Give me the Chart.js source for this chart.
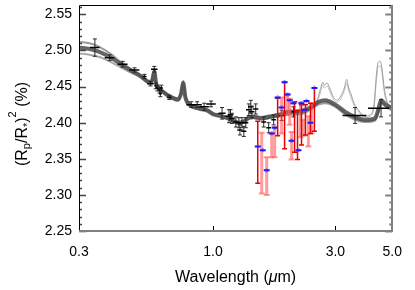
<!DOCTYPE html>
<html>
<head>
<meta charset="utf-8">
<script src="https://cdn.jsdelivr.net/npm/chart.js@4/dist/chart.umd.min.js"></script>
<style>
  html, body { margin: 0; padding: 0; background: #fff; }
  canvas { display: block; }
</style>
</head>
<body>
<canvas id="canvas" width="415" height="290"></canvas>
<script>
// tick labels
var xTicks = [0.3, 1.0, 3.0, 5.0];
var yTicks = [2.25, 2.30, 2.35, 2.40, 2.45, 2.50, 2.55];
var yMin = 2.25, yMax = 2.563;

// model spectra (gray band)
var modelWl = [0.30, 0.33, 0.36, 0.40, 0.44, 0.48, 0.52, 0.55, 0.57, 0.58, 0.59, 0.60, 0.62, 0.66, 0.70, 0.73, 0.75, 0.765, 0.78, 0.81, 0.88, 0.95, 1.00, 1.06, 1.15, 1.26, 1.32, 1.38, 1.44, 1.54, 1.65, 1.80, 1.97, 2.21, 2.42, 2.58, 2.74, 3.00, 3.28, 3.58, 3.92, 4.28, 4.40, 4.52, 4.72, 5.00];
var modelA = [2.504, 2.502, 2.498, 2.490, 2.480, 2.472, 2.465, 2.458, 2.456, 2.460, 2.471, 2.454, 2.447, 2.439, 2.434, 2.432, 2.440, 2.455, 2.435, 2.425, 2.420, 2.417, 2.412, 2.410, 2.406, 2.400, 2.402, 2.407, 2.408, 2.406, 2.408, 2.411, 2.415, 2.416, 2.422, 2.429, 2.431, 2.425, 2.415, 2.408, 2.404, 2.406, 2.417, 2.431, 2.425, 2.420];
var modelB = [2.512, 2.510, 2.505, 2.495, 2.483, 2.474, 2.466, 2.459, 2.457, 2.462, 2.474, 2.456, 2.448, 2.440, 2.435, 2.433, 2.442, 2.458, 2.437, 2.426, 2.421, 2.418, 2.413, 2.411, 2.407, 2.401, 2.403, 2.409, 2.410, 2.408, 2.410, 2.408, 2.411, 2.412, 2.419, 2.425, 2.427, 2.422, 2.411, 2.404, 2.401, 2.403, 2.412, 2.427, 2.422, 2.417];
var modelC = [2.496, 2.494, 2.491, 2.484, 2.476, 2.469, 2.463, 2.456, 2.454, 2.458, 2.468, 2.452, 2.445, 2.437, 2.432, 2.430, 2.438, 2.452, 2.433, 2.423, 2.418, 2.415, 2.410, 2.408, 2.404, 2.398, 2.400, 2.405, 2.406, 2.404, 2.406, 2.409, 2.413, 2.414, 2.420, 2.427, 2.429, 2.423, 2.413, 2.406, 2.402, 2.404, 2.414, 2.428, 2.423, 2.418];

// thin models with extra features longward of 2.5 um
var thinWl = [2.42, 2.55, 2.62, 2.68, 2.72, 2.78, 2.85, 2.95, 3.05, 3.15, 3.25, 3.32, 3.38, 3.45, 3.55, 3.70, 3.90, 4.10, 4.25, 4.33, 4.40, 4.48, 4.56, 4.65, 4.80, 5.00];
var thinA = [2.422, 2.432, 2.446, 2.456, 2.452, 2.455, 2.448, 2.435, 2.431, 2.437, 2.448, 2.460, 2.448, 2.440, 2.427, 2.417, 2.409, 2.411, 2.427, 2.464, 2.483, 2.485, 2.475, 2.448, 2.427, 2.422];
var thinB = [2.420, 2.429, 2.441, 2.452, 2.448, 2.451, 2.444, 2.432, 2.428, 2.433, 2.444, 2.454, 2.444, 2.435, 2.424, 2.415, 2.407, 2.409, 2.423, 2.456, 2.477, 2.479, 2.469, 2.443, 2.424, 2.420];

// black data points
var blackWl = [0.346, 0.395, 0.444, 0.494, 0.540, 0.570, 0.590, 0.598, 0.607, 0.618, 0.629, 0.623, 0.675, 0.822, 0.867, 0.923, 0.982, 1.084, 1.154, 1.170, 1.185, 1.228, 1.261, 1.273, 1.296, 1.318, 1.342, 1.379, 1.404, 1.416, 1.467, 1.576, 1.648, 1.723, 1.851, 2.059, 3.58, 4.52];
var blackVal = [2.504, 2.490, 2.481, 2.473, 2.464, 2.454, 2.474, 2.451, 2.448, 2.445, 2.448, 2.440, 2.435, 2.425, 2.425, 2.422, 2.426, 2.413, 2.409, 2.411, 2.406, 2.401, 2.400, 2.390, 2.400, 2.388, 2.400, 2.418, 2.422, 2.415, 2.419, 2.401, 2.393, 2.404, 2.410, 2.415, 2.410, 2.420];
var blackErr = [0.012, 0.004, 0.004, 0.003, 0.003, 0.003, 0.004, 0.004, 0.004, 0.004, 0.004, 0.004, 0.003, 0.004, 0.004, 0.005, 0.004, 0.008, 0.009, 0.007, 0.007, 0.007, 0.007, 0.007, 0.007, 0.007, 0.007, 0.008, 0.009, 0.008, 0.007, 0.007, 0.007, 0.007, 0.007, 0.007, 0.011, 0.012];
var blackWlErr = [0.015, 0.017, 0.020, 0.022, 0.010, 0.017, 0.017, 0.008, 0.008, 0.008, 0.008, 0.008, 0.015, 0.035, 0.037, 0.040, 0.042, 0.035, 0.035, 0.030, 0.030, 0.030, 0.030, 0.030, 0.030, 0.030, 0.030, 0.035, 0.035, 0.035, 0.035, 0.035, 0.035, 0.035, 0.035, 0.035, 0.38, 0.50];

// red points
var redWl = [1.494, 1.786, 1.901, 2.079, 2.135, 2.213, 2.293, 2.398, 2.485];
var redVal = [2.359, 2.408, 2.410, 2.394, 2.383, 2.397, 2.404, 2.406, 2.418];
var redErr = [0.043, 0.026, 0.046, 0.035, 0.034, 0.028, 0.021, 0.021, 0.030];

// light red points
var pinkWl = [1.548, 1.619, 1.693, 1.739, 1.851, 1.953, 1.990, 2.024, 2.193, 2.250, 2.354, 2.420];
var pinkVal = [2.344, 2.326, 2.369, 2.373, 2.410, 2.425, 2.415, 2.368, 2.404, 2.393, 2.388, 2.406];
var pinkErr = [0.042, 0.026, 0.017, 0.021, 0.025, 0.014, 0.018, 0.019, 0.024, 0.011, 0.021, 0.021];

// blue points
var blueWl = [1.494, 1.562, 1.619, 1.693, 1.739, 1.786, 1.851, 1.901, 1.953, 1.990, 2.024, 2.059, 2.153, 2.213, 2.273, 2.314, 2.398, 2.485];
var blueVal = [2.367, 2.362, 2.334, 2.385, 2.393, 2.435, 2.421, 2.456, 2.439, 2.431, 2.375, 2.427, 2.362, 2.427, 2.418, 2.430, 2.400, 2.448];
var blueErr = [0.003, 0.003, 0.003, 0.003, 0.003, 0.003, 0.003, 0.003, 0.003, 0.003, 0.003, 0.003, 0.003, 0.003, 0.003, 0.003, 0.003, 0.003];

function pts(xs, ys) {
    return xs.map(function (v, i) { return { x: v, y: ys[i] }; });
}

var FONT = '"Liberation Sans", Arial, sans-serif';
Chart.defaults.font.family = FONT;
Chart.defaults.color = '#000';

// draw error bars from the scales
var errorBars = {
    id: 'errorBars',
    afterDatasetsDraw: function (chart) {
        var ctx = chart.ctx, a = chart.chartArea;
        var x = chart.scales.x, y = chart.scales.y;
        ctx.save();
        ctx.beginPath();
        ctx.rect(a.left, a.top, a.right - a.left, a.bottom - a.top);
        ctx.clip();
        chart.data.datasets.forEach(function (ds) {
            var b = ds.bars;
            if (!b) return;
            ds.data.forEach(function (p, i) {
                var px = x.getPixelForValue(p.x), py = y.getPixelForValue(p.y);
                if (b.yErr) {
                    var t = y.getPixelForValue(p.y + b.yErr[i]);
                    var bt = y.getPixelForValue(p.y - b.yErr[i]);
                    ctx.strokeStyle = b.yColor;
                    ctx.lineWidth = b.yWidth;
                    ctx.beginPath();
                    ctx.moveTo(px, t); ctx.lineTo(px, bt);
                    ctx.stroke();
                    if (b.cap) {
                        ctx.lineWidth = b.capWidth || 1;
                        ctx.beginPath();
                        ctx.moveTo(px - b.cap, t); ctx.lineTo(px + b.cap, t);
                        ctx.moveTo(px - b.cap, bt); ctx.lineTo(px + b.cap, bt);
                        ctx.stroke();
                    }
                }
                if (b.xErr) {
                    var l = x.getPixelForValue(p.x - b.xErr[i]);
                    var r = x.getPixelForValue(p.x + b.xErr[i]);
                    ctx.strokeStyle = b.xColor;
                    ctx.lineWidth = 1.5;
                    ctx.beginPath();
                    ctx.moveTo(l, py); ctx.lineTo(r, py);
                    ctx.stroke();
                }
                if (b.mark) {
                    ctx.strokeStyle = b.markColor;
                    ctx.lineWidth = 2;
                    ctx.beginPath();
                    ctx.moveTo(px - b.mark, py); ctx.lineTo(px + b.mark, py);
                    ctx.stroke();
                }
            });
        });
        ctx.restore();
    }
};

// box and inward ticks, IDL style
var frame = {
    id: 'frame',
    afterDraw: function (chart) {
        var ctx = chart.ctx, a = chart.chartArea;
        var x = chart.scales.x, y = chart.scales.y;
        ctx.save();
        // minor and major y ticks
        for (var k = 225; k <= 256; k++) {
            var py = Math.round(y.getPixelForValue(k / 100)) + 0.5;
            var len = (k % 5 === 0) ? 7 : 3;
            ctx.strokeStyle = '#444';
            ctx.lineWidth = 1.5;
            ctx.beginPath();
            ctx.moveTo(a.left, py); ctx.lineTo(a.left + len, py);
            ctx.stroke();
            ctx.strokeStyle = '#808080';
            ctx.lineWidth = 2;
            ctx.beginPath();
            ctx.moveTo(a.right, py); ctx.lineTo(a.right - len, py);
            ctx.stroke();
        }
        // x ticks
        [1.0, 3.0].forEach(function (v) {
            var px = Math.round(x.getPixelForValue(v)) + 0.5;
            ctx.strokeStyle = '#000';
            ctx.lineWidth = 1;
            ctx.beginPath();
            ctx.moveTo(px, a.bottom); ctx.lineTo(px, a.bottom - 5);
            ctx.moveTo(px, a.top); ctx.lineTo(px, a.top + 5);
            ctx.stroke();
        });
        // box
        ctx.strokeStyle = '#000';
        ctx.lineWidth = 1;
        ctx.beginPath();
        ctx.moveTo(Math.round(a.left) + 0.5, a.bottom);
        ctx.lineTo(Math.round(a.left) + 0.5, Math.round(a.top) + 0.5);
        ctx.lineTo(a.right, Math.round(a.top) + 0.5);
        ctx.stroke();
        ctx.strokeStyle = '#808080';
        ctx.lineWidth = 2;
        ctx.beginPath();
        ctx.moveTo(a.left, Math.round(a.bottom));
        ctx.lineTo(Math.round(a.right), Math.round(a.bottom));
        ctx.lineTo(Math.round(a.right), a.top);
        ctx.stroke();
        ctx.restore();
    }
};

// axis titles with italic mu and sub/superscripts
var titles = {
    id: 'titles',
    afterDraw: function (chart) {
        var ctx = chart.ctx, a = chart.chartArea;
        var big = '16px ' + FONT, ital = 'italic 16px ' + FONT, small = '11px ' + FONT;
        ctx.save();
        ctx.fillStyle = '#000';
        ctx.textAlign = 'left';
        ctx.textBaseline = 'alphabetic';

        var xParts = [['Wavelength (', big, 0], ['\u03bc', ital, 0], ['m)', big, 0]];
        drawParts(ctx, xParts, (a.left + a.right) / 2, 282);

        ctx.translate(27, 124);
        ctx.rotate(-Math.PI / 2);
        var yParts = [['(R', big, 0], ['p', small, 3], ['/R', big, 0], ['*', small, 4], [')', big, 0], ['2', small, -11], [' (%)', big, 0]];
        drawParts(ctx, yParts, 0, 0);
        ctx.restore();
    }
};

function drawParts(ctx, parts, cx, base) {
    var w = 0;
    parts.forEach(function (p) { ctx.font = p[1]; w += ctx.measureText(p[0]).width; });
    var px = cx - w / 2;
    parts.forEach(function (p) {
        ctx.font = p[1];
        ctx.fillText(p[0], px, base + p[2]);
        px += ctx.measureText(p[0]).width;
    });
}

var ctx = document.getElementById('canvas').getContext('2d');
var chart = new Chart(ctx, {
    type: 'line',
    data: {
        datasets: [
            {
                data: pts(modelWl, modelA),
                borderColor: 'rgba(75,75,75,0.85)',
                borderWidth: 4,
                pointRadius: 0,
                cubicInterpolationMode: 'monotone',
                order: 3
            },
            {
                data: pts(modelWl, modelB),
                borderColor: 'rgba(130,130,130,0.8)',
                borderWidth: 2,
                pointRadius: 0,
                cubicInterpolationMode: 'monotone',
                order: 4
            },
            {
                data: pts(modelWl, modelC),
                borderColor: 'rgba(140,140,140,0.75)',
                borderWidth: 2,
                pointRadius: 0,
                cubicInterpolationMode: 'monotone',
                order: 4
            },
            {
                data: pts(thinWl, thinA),
                borderColor: 'rgba(150,150,150,0.9)',
                borderWidth: 1,
                pointRadius: 0,
                cubicInterpolationMode: 'monotone',
                order: 5
            },
            {
                data: pts(thinWl, thinB),
                borderColor: 'rgba(185,185,185,0.9)',
                borderWidth: 1,
                pointRadius: 0,
                cubicInterpolationMode: 'monotone',
                order: 6
            },
            {
                data: pts(blackWl, blackVal),
                showLine: false,
                pointRadius: 0,
                bars: { yErr: blackErr, yColor: '#2a2a2a', yWidth: 1, cap: 2, capWidth: 1, xErr: blackWlErr, xColor: '#000' },
                order: 2
            },
            {
                data: pts(pinkWl, pinkVal),
                showLine: false,
                pointRadius: 0,
                bars: { yErr: pinkErr, yColor: 'rgba(255,90,90,0.6)', yWidth: 3, cap: 3, capWidth: 2 },
                order: 1
            },
            {
                data: pts(redWl, redVal),
                showLine: false,
                pointRadius: 0,
                bars: { yErr: redErr, yColor: '#e80000', yWidth: 1.5, cap: 2.5, capWidth: 1.5 },
                order: 0
            },
            {
                data: pts(blueWl, blueVal),
                showLine: false,
                pointRadius: 0,
                bars: { yErr: blueErr, yColor: 'rgba(140,90,220,0.7)', yWidth: 2, mark: 3, markColor: '#1a1aff' },
                order: 0
            }
        ]
    },
    options: {
        responsive: false,
        animation: false,
        devicePixelRatio: 1,
        layout: { padding: { left: 0, right: 20, top: 5, bottom: 0 } },
        plugins: { legend: { display: false }, tooltip: { enabled: false } },
        scales: {
            x: {
                type: 'logarithmic',
                min: 0.3,
                max: 5.0,
                grid: { display: false, drawTicks: false },
                border: { display: false },
                afterBuildTicks: function (axis) {
                    axis.ticks = xTicks.map(function (v) { return { value: v }; });
                },
                ticks: {
                    autoSkip: false,
                    maxRotation: 0,
                    padding: 13,
                    color: '#000',
                    font: { size: 14 },
                    callback: function (v) { return Number(v).toFixed(1); }
                },
                afterFit: function (s) { s.height = 59; }
            },
            y: {
                min: yMin,
                max: yMax,
                grid: { display: false, drawTicks: false },
                border: { display: false },
                afterBuildTicks: function (axis) {
                    axis.ticks = yTicks.map(function (v) { return { value: v }; });
                },
                ticks: {
                    padding: 7,
                    color: '#000',
                    font: { size: 14 },
                    callback: function (v) { return Number(v).toFixed(2); }
                },
                afterFit: function (s) { s.width = 79; s.paddingTop = 0; s.paddingBottom = 0; }
            }
        }
    },
    plugins: [errorBars, frame, titles]
});
</script>
</body>
</html>
